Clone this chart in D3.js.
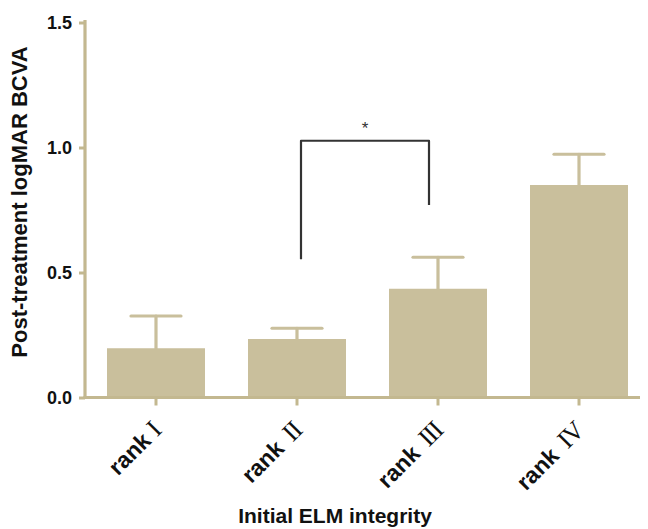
<!DOCTYPE html>
<html>
<head>
<meta charset="utf-8">
<script src="https://cdn.jsdelivr.net/npm/d3@7"></script>
<style>
  html, body { margin: 0; padding: 0; background: #fff; }
  svg { display: block; }
</style>
</head>
<body>
<svg id="chart" width="648" height="529"></svg>
<script>
// ---- data ----
const categories = ["rank", "rank", "rank", "rank"];
const numerals = ["I", "II", "III", "IV"];
const means = [0.197, 0.234, 0.435, 0.85];
const errors = [0.129, 0.043, 0.126, 0.123];
const yTicks = [0.0, 0.5, 1.0, 1.5];
const bracketPair = [1, 2];            // indices of compared groups
const bracketLevels = [0.553, 1.027, 0.77]; // left bottom, top, right bottom
const bracketLabel = "*";
const xTitle = "Initial ELM integrity";
const yTitle = "Post-treatment logMAR BCVA";

// ---- style ----
const axisColor = "#c3b890";
const barColor = "#c9bf9c";
const svg = d3.select("#chart");

const keys = numerals.map((n, i) => categories[i] + " " + n);

const y = d3.scaleLinear().domain([0, 1.5]).range([397.5, 22.5]);
const x = d3.scaleBand().domain(keys).range([85, 650])
  .paddingInner(0.305).paddingOuter(0.156);

// bars
svg.append("g").selectAll("rect").data(keys).join("rect")
  .attr("x", d => x(d))
  .attr("width", x.bandwidth())
  .attr("y", (d, i) => y(means[i]))
  .attr("height", (d, i) => y(0) - y(means[i]))
  .attr("fill", barColor);

// error bars
const eg = svg.append("g").attr("stroke", barColor).attr("stroke-width", 3.2).attr("stroke-linecap", "round");
keys.forEach((k, i) => {
  const cx = x(k) + x.bandwidth() / 2;
  eg.append("line").attr("x1", cx).attr("x2", cx)
    .attr("y1", y(means[i])).attr("y2", y(means[i] + errors[i]));
  eg.append("line").attr("x1", cx - 25).attr("x2", cx + 25)
    .attr("y1", y(means[i] + errors[i])).attr("y2", y(means[i] + errors[i]));
});

// y axis
const yAxis = svg.append("g").attr("transform", "translate(85,0)")
  .call(d3.axisLeft(y).tickValues(yTicks).tickFormat(d3.format(".1f")).tickSize(6).tickPadding(7));
yAxis.select(".domain").remove();
yAxis.selectAll(".tick line").attr("stroke", axisColor).attr("stroke-width", 3);
yAxis.selectAll(".tick text")
  .attr("font-family", "Liberation Sans, Arial, sans-serif")
  .attr("font-weight", "bold").attr("font-size", 18).attr("fill", "#111");
svg.append("line").attr("x1", 85).attr("x2", 85).attr("y1", 20).attr("y2", y(0) + 1.5)
  .attr("stroke", axisColor).attr("stroke-width", 3.2);

// x axis
const xAxis = svg.append("g").attr("transform", `translate(0,${y(0)})`)
  .call(d3.axisBottom(x).tickSize(8).tickFormat(""));
xAxis.select(".domain").remove();
xAxis.selectAll(".tick line").attr("stroke", axisColor).attr("stroke-width", 3);
svg.append("line").attr("x1", 83.5).attr("x2", 640).attr("y1", y(0)).attr("y2", y(0))
  .attr("stroke", axisColor).attr("stroke-width", 3.2);

// x labels
const lab = svg.append("g").selectAll("text").data(keys).join("text")
  .attr("text-anchor", "end")
  .attr("transform", d => `translate(${x(d) + x.bandwidth() / 2 + 6},${y(0) + 35}) rotate(-45)`)
  .attr("fill", "#111");
lab.append("tspan").text((d, i) => categories[i] + "\u00a0")
  .attr("font-family", "Liberation Sans, Arial, sans-serif").attr("font-weight", "bold").attr("font-size", 23);
lab.append("tspan").text((d, i) => numerals[i])
  .attr("font-family", "Liberation Serif, Times New Roman, serif").attr("font-size", 26)
  .attr("dx", (d, i) => i === 0 ? 0 : 4)
  .attr("letter-spacing", -1.5);

// bracket
const bx1 = x(keys[bracketPair[0]]) + x.bandwidth() / 2 + 4;
const bx2 = x(keys[bracketPair[1]]) + x.bandwidth() / 2 - 9;
svg.append("path")
  .attr("d", `M${bx1},${y(bracketLevels[0])}V${y(bracketLevels[1])}H${bx2}V${y(bracketLevels[2])}`)
  .attr("fill", "none").attr("stroke", "#333").attr("stroke-width", 2.2).attr("stroke-linejoin", "round");
svg.append("text").attr("x", (bx1 + bx2) / 2).attr("y", y(bracketLevels[1]) - 7)
  .attr("text-anchor", "middle").attr("font-family", "Liberation Sans, Arial, sans-serif")
  .attr("font-size", 17).attr("fill", "#333").text(bracketLabel);

// titles
svg.append("text").attr("x", 335).attr("y", 523).attr("text-anchor", "middle")
  .attr("font-family", "Liberation Sans, Arial, sans-serif").attr("font-weight", "bold")
  .attr("font-size", 21).attr("fill", "#111").text(xTitle);
svg.append("text").attr("transform", "translate(27,202) rotate(-90)").attr("text-anchor", "middle")
  .attr("font-family", "Liberation Sans, Arial, sans-serif").attr("font-weight", "bold")
  .attr("font-size", 22).attr("fill", "#111").text(yTitle);
</script>
</body>
</html>
